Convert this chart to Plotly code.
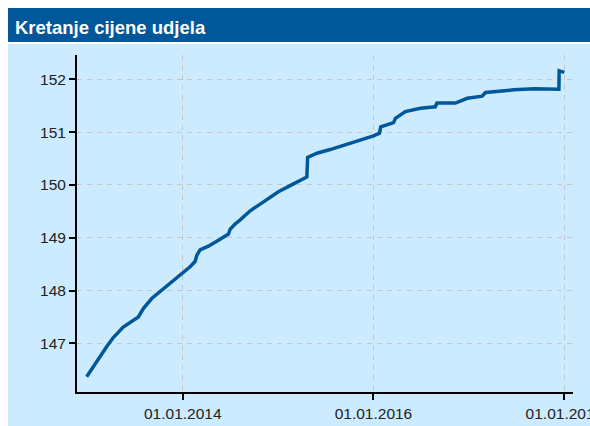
import plotly.graph_objects as go

dates = [
    "2012-12-29", "2013-01-23", "2013-02-18", "2013-03-16", "2013-04-10",
    "2013-05-18", "2013-07-15", "2013-08-03", "2013-09-04", "2013-10-13",
    "2013-11-20", "2013-12-22", "2014-01-29", "2014-02-17", "2014-02-24",
    "2014-03-08", "2014-04-09", "2014-05-24", "2014-06-25", "2014-07-01",
    "2014-07-20", "2014-08-09", "2014-09-16", "2014-11-06", "2015-01-02",
    "2015-03-01", "2015-04-21", "2015-04-24", "2015-05-30", "2015-07-19",
    "2015-09-21", "2015-11-05", "2016-01-01", "2016-01-24", "2016-01-29",
    "2016-03-18", "2016-03-25", "2016-05-02", "2016-06-29", "2016-08-25",
    "2016-08-31", "2016-11-10", "2016-12-25", "2017-02-20", "2017-03-05",
    "2017-05-01", "2017-06-21", "2017-09-06", "2017-12-11", "2017-12-12",
    "2018-01-01",
]
values = [
    146.37, 146.56, 146.75, 146.94, 147.11,
    147.31, 147.50, 147.66, 147.85, 148.01,
    148.17, 148.29, 148.45, 148.55, 148.67,
    148.77, 148.84, 148.97, 149.07, 149.16,
    149.26, 149.34, 149.51, 149.68, 149.87,
    150.02, 150.15, 150.52, 150.60, 150.67,
    150.76, 150.84, 150.93, 150.98, 151.10,
    151.18, 151.26, 151.39, 151.45, 151.48,
    151.55, 151.55, 151.64, 151.68, 151.75,
    151.78, 151.80, 151.82, 151.81, 152.16,
    152.13,
]
tick_vals = ["2014-01-01", "2016-01-01", "2018-01-01"]
tick_text = ["01.01.2014", "01.01.2016", "01.01.2018"]
y_ticks = [147, 148, 149, 150, 151, 152]
title_text = "Kretanje cijene udjela"

W, H = 590, 426
L, R, T, B = 77, 17, 55, 34
pw, ph = W - L - R, H - T - B

def xp(px):
    return (px - L) / pw

def yp(py):
    return (H - B - py) / ph

FONT = "Liberation Sans, Arial, sans-serif"

fig = go.Figure()
fig.add_trace(go.Scatter(
    x=dates, y=values, mode="lines",
    line=dict(color="#00589b", width=3.5),
    hoverinfo="skip",
))

fig.update_layout(
    width=W, height=H,
    margin=dict(l=L, r=R, t=T, b=B, autoexpand=False),
    paper_bgcolor="white",
    plot_bgcolor="rgba(0,0,0,0)",
    showlegend=False,
    font=dict(family=FONT, size=15.5, color="#222222"),
    shapes=[
        dict(type="rect", xref="paper", yref="paper",
             x0=xp(8), x1=xp(600), y0=yp(440), y1=yp(44),
             fillcolor="#cdebff", line=dict(width=0), layer="below"),
        dict(type="rect", xref="paper", yref="paper",
             x0=xp(8), x1=xp(600), y0=yp(42), y1=yp(8),
             fillcolor="#00579a", line=dict(width=0), layer="below"),
    ],
    annotations=[
        dict(text="<b>" + title_text + "</b>", xref="paper", yref="paper",
             x=xp(13), y=yp(27), xanchor="left", yanchor="middle",
             showarrow=False,
             font=dict(family=FONT, size=18.5, color="white")),
    ],
)

fig.update_xaxes(
    range=["2012-11-22", "2018-02-03"],
    tickvals=tick_vals, ticktext=tick_text,
    showline=True, linecolor="black", linewidth=2,
    ticks="outside", ticklen=6, tickwidth=2, tickcolor="black",
    showgrid=True, gridcolor="#c6c6c6", gridwidth=1, griddash="5px,5px",
    zeroline=False, automargin=False, ticklabeloverflow="allow",
)
fig.update_yaxes(
    range=[146.08, 152.46],
    tickvals=y_ticks,
    showline=True, linecolor="black", linewidth=2,
    ticks="outside", ticklen=6, tickwidth=2, tickcolor="black",
    showgrid=True, gridcolor="#c6c6c6", gridwidth=1, griddash="5px,5px",
    zeroline=False, automargin=False,
)

fig.write_html(
    "out.html",
    config={"displayModeBar": False, "staticPlot": True},
    post_script="document.body.style.margin='0';document.body.style.overflow='hidden';",
)
